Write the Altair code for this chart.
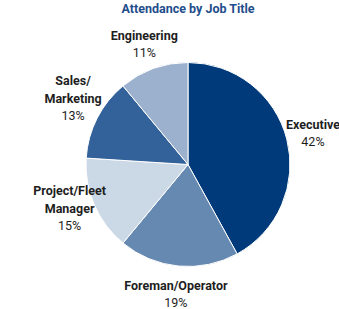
import altair as alt
import pandas as pd

categories = ["Executive", "Foreman/Operator", "Project/Fleet Manager", "Sales/Marketing", "Engineering"]
label_top = ["", "", "Project/Fleet", "Sales/", ""]
label_bottom = ["Executive", "Foreman/Operator", "Manager", "Marketing", "Engineering"]
values = [42, 19, 15, 13, 11]
colors = ["#003A7A", "#6689B2", "#CBD8E6", "#33629A", "#9BB1CD"]

df = pd.DataFrame({
    "category": categories,
    "top": label_top,
    "bottom": label_bottom,
    "value": values,
    "order": list(range(len(categories))),
})
df["pct"] = df["value"].astype(str) + "%"

base = alt.Chart(df).encode(
    theta=alt.Theta("value:Q", stack=True),
    order=alt.Order("order:Q"),
)

arcs = base.mark_arc(outerRadius=102, stroke="white", strokeWidth=1).encode(
    color=alt.Color("category:N", scale=alt.Scale(domain=categories, range=colors), legend=None)
)

R = 129
txt = dict(radius=R, font="Roboto", fontSize=12.5, color="#1E1E1E")

names_bottom = base.mark_text(fontWeight="bold", baseline="bottom", dy=0, **txt).encode(text="bottom:N")
names_top = base.mark_text(fontWeight="bold", baseline="bottom", dy=-18, **txt).encode(text="top:N")
pcts = base.mark_text(baseline="top", dy=4, **txt).encode(text="pct:N")

chart = alt.layer(arcs, names_top, names_bottom, pcts).properties(
    width=302, height=289,
    padding={"left": 37, "top": 20, "right": 0, "bottom": 0},
    autosize="none",
    title=alt.Title("Attendance by Job Title", font="Roboto", fontSize=12.5, fontWeight="bold",
                    color="#1F4E8C", anchor="middle", offset=0, dy=3),
).configure_view(stroke=None)

chart.save("out.html", embed_options={"renderer": "svg", "actions": False})
